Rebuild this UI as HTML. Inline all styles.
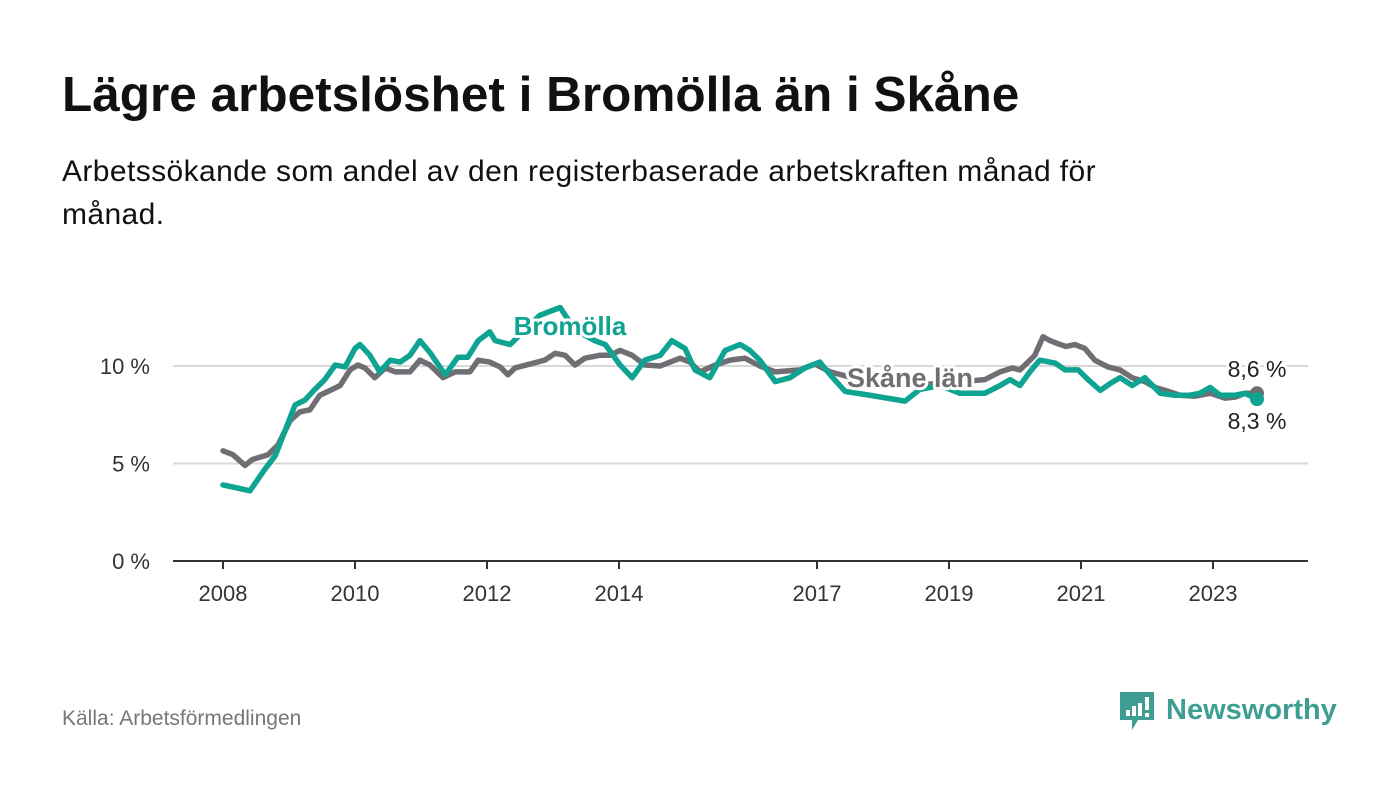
<!DOCTYPE html>
<html><head><meta charset="utf-8">
<style>
body{margin:0;width:1400px;height:794px;background:#fff;font-family:"Liberation Sans",sans-serif;overflow:hidden;position:relative}
h1{position:absolute;left:62px;top:66px;margin:0;font-size:49.5px;font-weight:bold;color:#111;white-space:nowrap}
.sub{position:absolute;left:62px;top:150px;width:1080px;font-size:30px;letter-spacing:0.4px;line-height:43px;color:#111}
.src{position:absolute;left:62px;top:707px;font-size:21px;color:#777}
svg{position:absolute;left:0;top:0}
</style></head><body>
<h1>Lägre arbetslöshet i Bromölla än i Skåne</h1>
<div class="sub">Arbetssökande som andel av den registerbaserade arbetskraften månad för månad.</div>
<div class="src">Källa: Arbetsförmedlingen</div>
<svg width="1400" height="794" id="chart">
<g id="logo">
<path d="M1120 692h34v28h-16l-6 10v-10h-12z" fill="#3f9e93"/>
<rect x="1126" y="710" width="4" height="6" fill="#fff"/><rect x="1132" y="706" width="4" height="10" fill="#fff"/><rect x="1138" y="703" width="4" height="13" fill="#fff"/><rect x="1145" y="697" width="4" height="13" fill="#fff"/><rect x="1145" y="713" width="4" height="4" fill="#fff"/>
<text x="1166" y="719" font-size="29" font-weight="bold" fill="#3f9e93" font-family="Liberation Sans, sans-serif">Newsworthy</text>
</g>
</svg>
<script>
const yTicks=[0,5,10];
const xTickYears=[2008,2010,2012,2014,2017,2019,2021,2023];
// months since Jan 2008
const bromMonths=[0,2.5,4.9,7.6,9.5,11.3,13.1,14.9,16.7,18.5,20.4,22.2,24,24.9,26.7,28.5,30.4,32.2,34,35.8,37.6,40.4,42.7,44.5,46.4,48.5,49.5,52.2,57.6,61.3,64,67.6,69.5,72.2,74.4,76.7,79.5,81.6,84,85.8,88.5,91.3,94,95.8,97.6,100.4,103.1,105.8,108.5,110.4,113.1,117.6,124,126.7,130.4,134,138.5,141.3,143.1,144.9,146.7,148.5,151.3,153.1,155.5,157.3,159.5,161.3,163.1,165.3,167.6,170.4,173.1,175.8,177.6,179.5,181.3,184,185.8,188];
const bromVals=[3.9,3.75,3.6,4.7,5.4,6.7,8.0,8.25,8.8,9.3,10.05,9.95,10.9,11.1,10.55,9.7,10.3,10.2,10.55,11.3,10.7,9.55,10.45,10.45,11.3,11.75,11.3,11.1,12.6,13.0,11.85,11.3,11.1,10.05,9.4,10.3,10.55,11.3,10.9,9.8,9.4,10.8,11.1,10.8,10.3,9.2,9.4,9.9,10.2,9.55,8.7,8.5,8.2,8.8,9.0,8.6,8.6,9.0,9.3,9.0,9.7,10.3,10.15,9.8,9.8,9.3,8.75,9.1,9.4,9.0,9.4,8.6,8.5,8.5,8.6,8.9,8.5,8.5,8.6,8.3];
const skaneMonths=[0,1.8,4,5.3,8.2,10,12.2,14,15.8,17.6,19.5,21.3,23.1,24.5,25.8,27.6,29.5,31.3,34,35.8,37.6,40,42.2,44.9,46.4,48.5,50.4,51.8,53.1,55.8,58.5,60.4,62.2,64,65.8,68.5,70.4,72.2,74.4,76.7,79.5,83.1,84.9,86.7,89.5,92.2,94.9,97.6,100.4,104.9,107.6,110.4,115.8,123.1,130.4,138.5,141.3,143.5,144.9,147.6,149.1,150.4,152.2,153.3,154.9,156.7,158.5,160.9,163.1,165.3,167.6,169.5,171.3,174,176.7,179.5,182.2,184,185.8,188];
const skaneVals=[5.65,5.45,4.9,5.2,5.45,5.95,7.2,7.65,7.75,8.5,8.75,9.0,9.8,10.05,9.9,9.4,9.9,9.7,9.7,10.3,10.05,9.4,9.7,9.7,10.3,10.2,9.95,9.55,9.9,10.1,10.3,10.65,10.55,10.05,10.4,10.55,10.55,10.8,10.55,10.05,10.0,10.4,10.2,9.7,10.05,10.3,10.4,10.0,9.7,9.8,10.1,9.7,9.3,9.0,9.1,9.3,9.7,9.9,9.8,10.55,11.5,11.3,11.1,11.0,11.1,10.9,10.3,9.95,9.8,9.4,9.2,8.9,8.75,8.5,8.45,8.6,8.35,8.4,8.6,8.6];
const NS='http://www.w3.org/2000/svg';
const svg=document.getElementById('chart');
const X=m=>223+m*5.5;
const XY=yr=>X((yr-2008)*12);
const Y=v=>561-19.5*v;
function mk(tag,attrs){const e=document.createElementNS(NS,tag);for(const k in attrs)e.setAttribute(k,attrs[k]);svg.appendChild(e);return e;}
yTicks.forEach(v=>{
  if(v>0){const g=mk('line',{x1:173,x2:1308,y1:Y(v),y2:Y(v),stroke:'#d8d8d8','stroke-width':2});
  
  }
  const t=mk('text',{x:150,y:Y(v)+8,'text-anchor':'end','font-size':22,fill:'#333'});t.textContent=v+' %';
  
  
});
const ax=mk('line',{x1:173,x2:1308,y1:561,y2:561,stroke:'#333','stroke-width':2});


xTickYears.forEach(yr=>{
  const tk=mk('line',{x1:XY(yr),x2:XY(yr),y1:561,y2:569,stroke:'#333','stroke-width':2});
  
  
  const t=mk('text',{x:XY(yr),y:601,'text-anchor':'middle','font-size':22,fill:'#333'});t.textContent=yr;
  
  
});
function line(d,v,c,name){
  const n=Math.min(d.length,v.length);
  const pts=[];for(let i=0;i<n;i++)pts.push(X(d[i])+','+Y(v[i]));
  const p=mk('polyline',{points:pts.join(' '),fill:'none',stroke:c,'stroke-width':5.5,'stroke-linejoin':'round','stroke-linecap':'round'});
  
  
  const c2=mk('circle',{cx:X(d[n-1]),cy:Y(v[n-1]),r:7,fill:c});
  
  
  return n-1;
}
const ns=line(skaneMonths,skaneVals,'#6f6e73','skane-line');
const nb=line(bromMonths,bromVals,'#0fa392','bromolla-line');
function lbl(x,y,txt,c,size,bold,anchor,name){
  const t=mk('text',{x:x,y:y,'text-anchor':anchor,'font-size':size,'font-weight':bold?'bold':'normal',fill:c,stroke:'#fff','stroke-width':6,'paint-order':'stroke','stroke-linejoin':'round'});
  t.textContent=txt;
  
  
}
lbl(570,335,'Bromölla','#0fa392',26,true,'middle','bromolla-label');
lbl(910,387,'Skåne län','#6f6e73',27,true,'middle','skane-label');
lbl(X(skaneMonths[ns]),377,skaneVals[ns].toFixed(1).replace('.',',')+' %','#222',23,false,'middle','skane-end-value');
lbl(X(bromMonths[nb]),429,bromVals[nb].toFixed(1).replace('.',',')+' %','#222',23,false,'middle','bromolla-end-value');
</script>
</body></html>
